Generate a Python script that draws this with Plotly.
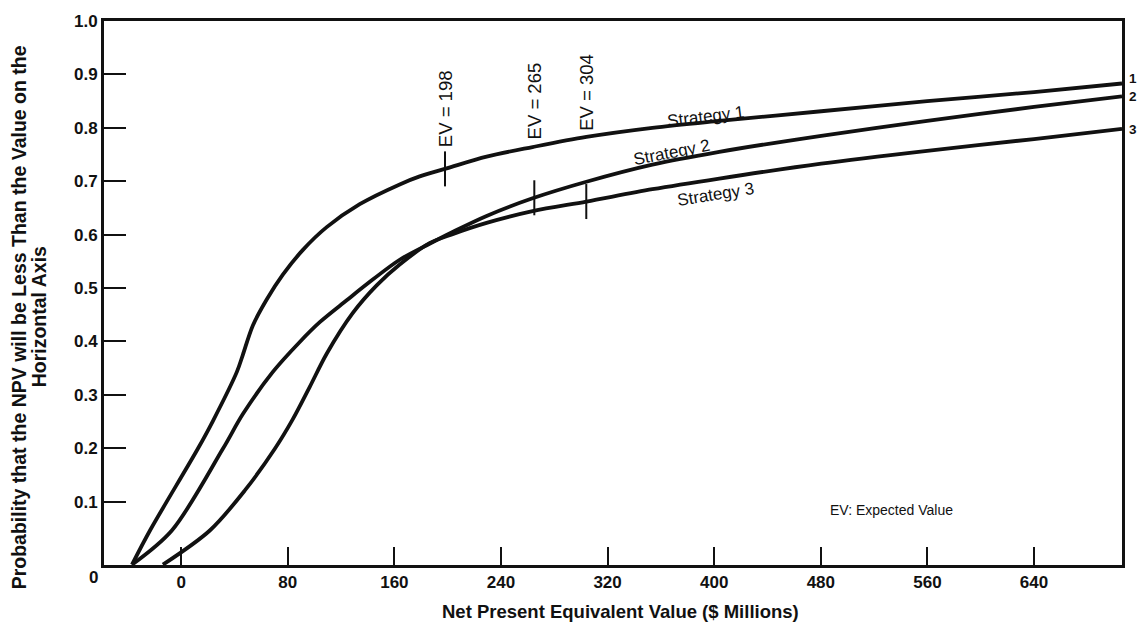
import numpy as np
import plotly.graph_objects as go

# ---- data (values on the chart's own scales) ----
s1_x = [-36.9, -23.4, 12.5, 23.8, 41.8, 46.3, 53.8, 64.3, 76.3, 91.2, 109.2, 134, 164, 179, 199.2, 229.2, 263.7, 304.1, 353.6, 403.8, 480.3, 559.8, 640, 706]
s1_y = [-0.018, 0.046, 0.199, 0.251, 0.343, 0.375, 0.430, 0.479, 0.525, 0.571, 0.614, 0.657, 0.694, 0.709, 0.724, 0.746, 0.764, 0.783, 0.800, 0.813, 0.831, 0.850, 0.867, 0.883]

s2_x = [-36.9, -7, 31.3, 46.3, 68.8, 89, 104, 124.2, 139.2, 164, 186.4, 203.7, 229.2, 263.7, 304.1, 353.6, 403.8, 480.3, 559.8, 640, 706]
s2_y = [-0.018, 0.046, 0.199, 0.264, 0.343, 0.399, 0.436, 0.477, 0.507, 0.553, 0.583, 0.605, 0.635, 0.668, 0.699, 0.731, 0.755, 0.785, 0.813, 0.839, 0.859]

s3_x = [-13.7, 21.5, 47.8, 70.3, 83.7, 96.5, 109.2, 128.7, 146.7, 164, 186.4, 203.7, 229.2, 263.7, 304.1, 353.6, 403.8, 480.3, 559.8, 640, 706]
s3_y = [-0.018, 0.046, 0.121, 0.199, 0.254, 0.315, 0.377, 0.453, 0.505, 0.544, 0.584, 0.601, 0.622, 0.644, 0.662, 0.685, 0.705, 0.733, 0.757, 0.779, 0.798]

strategy_names = ["Strategy 1", "Strategy 2", "Strategy 3"]
curve_numbers = ["1", "2", "3"]
ev_values = [198, 265, 304]
ev_labels = ["EV = 198", "EV = 265", "EV = 304"]

x_ticks = [0, 80, 160, 240, 320, 400, 480, 560, 640]
y_ticks = [0.1, 0.2, 0.3, 0.4, 0.5, 0.6, 0.7, 0.8, 0.9, 1.0]
y_tick_text = ["0.1", "0.2", "0.3", "0.4", "0.5", "0.6", "0.7", "0.8", "0.9", "1.0"]

FONT = "Liberation Sans, Arial, Helvetica, sans-serif"
BLACK = "#111111"

fig = go.Figure()
series = [(s1_x, s1_y), (s2_x, s2_y), (s3_x, s3_y)]
for (xs, ys), name in zip(series, strategy_names):
    fig.add_trace(go.Scatter(x=xs, y=ys, mode="lines", name=name,
                             line=dict(color=BLACK, width=3.8, shape="spline", smoothing=0.9),
                             showlegend=False, hoverinfo="skip"))

# expected-value tick marks on each curve
ev_y = [float(np.interp(ev, xs, ys)) for ev, (xs, ys) in zip(ev_values, series)]
fig.add_trace(go.Scatter(x=ev_values, y=ev_y, mode="markers", showlegend=False,
                         marker=dict(symbol="line-ns", size=25, line=dict(color=BLACK, width=2)),
                         hoverinfo="skip"))

# EV text labels (rotated)
ev_label_y = [0.835, 0.850, 0.866]
for ev, ly, txt in zip(ev_values, ev_label_y, ev_labels):
    fig.add_annotation(x=ev, y=ly, xref="x", yref="y", text=txt, showarrow=False,
                       textangle=-90, xanchor="center", yanchor="middle",
                       font=dict(family=FONT, size=18.5, color=BLACK))

# strategy labels
strat_pos = [(394, 0.822, -7), (368, 0.753, -11), (401, 0.675, -9)]
for (sx, sy, ang), name in zip(strat_pos, strategy_names):
    fig.add_annotation(x=sx, y=sy, xref="x", yref="y", text=name, showarrow=False,
                       textangle=ang, xanchor="center", yanchor="middle",
                       font=dict(family=FONT, size=17, color=BLACK))

fig.add_annotation(x=533, y=0.0835, xref="x", yref="y", text="EV: Expected Value", showarrow=False,
                   xanchor="center", yanchor="middle",
                   font=dict(family=FONT, size=14, color=BLACK))

# right-edge curve numbers (at the page edge as in the reference)
for lbl, py in zip(curve_numbers, [0.892, 0.858, 0.796]):
    fig.add_annotation(x=1.005, y=py, xref="paper", yref="y", text=f"<b>{lbl}</b>", showarrow=False,
                       xanchor="left", yanchor="middle",
                       font=dict(family=FONT, size=13.5, color=BLACK))

# origin label
fig.add_annotation(x=-0.0108, y=-0.0237, xref="paper", yref="paper", text="<b>0</b>", showarrow=False,
                   xanchor="center", yanchor="middle",
                   font=dict(family=FONT, size=17, color=BLACK))

# axis titles
fig.add_annotation(x=0.507, y=-0.0856, xref="paper", yref="paper",
                   text="<b>Net Present Equivalent Value ($ Millions)</b>", showarrow=False,
                   xanchor="center", yanchor="middle",
                   font=dict(family=FONT, size=18.5, color=BLACK))
fig.add_annotation(x=-0.0834, y=0.4554, xref="paper", yref="paper",
                   text="<b>Probability that the NPV will be Less Than the Value on the</b>",
                   showarrow=False, textangle=-90, xanchor="center", yanchor="middle",
                   font=dict(family=FONT, size=19.5, color=BLACK))
fig.add_annotation(x=-0.0638, y=0.4554, xref="paper", yref="paper",
                   text="<b>Horizontal Axis</b>",
                   showarrow=False, textangle=-90, xanchor="center", yanchor="middle",
                   font=dict(family=FONT, size=19.5, color=BLACK))

fig.update_xaxes(range=[-57.9, 706], tickvals=x_ticks, ticktext=[f"<b>{v}</b>" for v in x_ticks],
                 ticks="inside", ticklen=18, tickwidth=2, tickcolor=BLACK,
                 showline=True, linecolor=BLACK, linewidth=3, mirror=True,
                 showgrid=False, zeroline=False, ticklabelstandoff=0,
                 tickfont=dict(family=FONT, size=17, color=BLACK))
fig.update_yaxes(range=[-0.0186, 1.0], tickvals=y_ticks, ticktext=[f"<b>{t}</b>" for t in y_tick_text],
                 ticks="inside", ticklen=22, tickwidth=2, tickcolor=BLACK,
                 showline=True, linecolor=BLACK, linewidth=3, mirror=True,
                 showgrid=False, zeroline=False,
                 tickfont=dict(family=FONT, size=17, color=BLACK))

fig.update_layout(width=1137, height=625, autosize=False,
                  margin=dict(l=104, r=14, t=16, b=60),
                  plot_bgcolor="white", paper_bgcolor="white",
                  font=dict(family=FONT, color=BLACK))

fig.write_html("out.html", config={"displayModeBar": False},
               post_script="document.body.style.margin='0px';document.body.style.overflow='hidden';")
